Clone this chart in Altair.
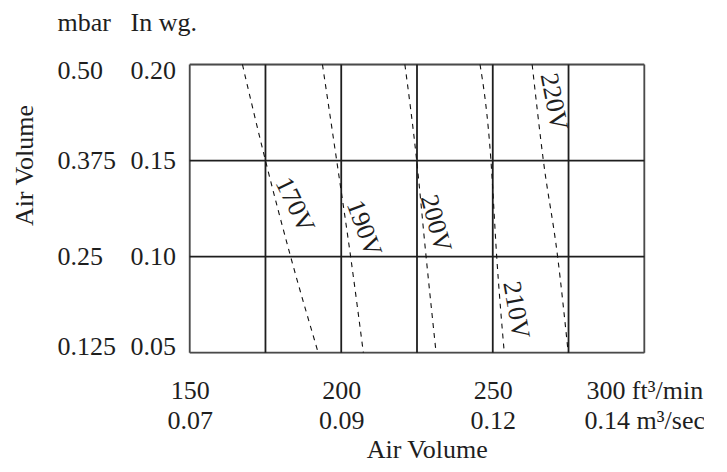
import altair as alt
import pandas as pd

FONT = "Liberation Serif"
INK = "#1e1e1e"

# ---- axis ticks and labels ----
cfm_ticks = [150, 200, 250, 300]
cfm_labels = ["150", "200", "250", "300 ft³/min"]
cms_labels = ["0.07", "0.09", "0.12", "0.14 m³/sec"]
inwg_ticks = [0.05, 0.10, 0.15, 0.20]
mbar_labels = ["0.125", "0.25", "0.375", "0.50"]

# ---- grid and frame ----
grid_x = [175, 200, 225, 250, 275]
grid_y = [0.10, 0.15]
frame_x = [150, 300]
frame_y = [0.05, 0.20]

# ---- voltage curves (air volume ft3/min at each pressure) ----
curve_pressure = [0.20, 0.15, 0.10, 0.05]
volts = ["170V", "190V", "200V", "210V", "220V"]
curve_170 = [167.4, 175.0, 183.3, 192.4]
curve_190 = [193.8, 198.5, 203.1, 207.3]
curve_200 = [221.0, 224.9, 228.0, 231.3]
curve_210 = [245.8, 249.4, 251.3, 253.8]
curve_220 = [263.0, 266.7, 271.4, 274.9]

# ---- curve labels ----
label_x = [184.7, 207.5, 231.2, 257.7, 270.2]
label_y = [0.1269, 0.1147, 0.1173, 0.0722, 0.1806]
label_angle = [64, 70, 75, 80, 79]

curves = [curve_170, curve_190, curve_200, curve_210, curve_220]
rows = []
for v, c in zip(volts, curves):
    for p, q in zip(curve_pressure, c):
        rows.append({"volt": v, "cfm": q, "inwg": p})
curve_df = pd.DataFrame(rows)
label_df = pd.DataFrame({"volt": volts, "cfm": label_x, "inwg": label_y, "angle": label_angle})
gx_df = pd.DataFrame({"cfm": grid_x})
gy_df = pd.DataFrame({"inwg": grid_y})
fx_df = pd.DataFrame({"cfm": frame_x})
fy_df = pd.DataFrame({"inwg": frame_y})
ticks_df = pd.DataFrame({"inwg": inwg_ticks})

def js_list(items):
    return "[" + ",".join("'" + s + "'" for s in items) + "]"

x_label_expr = ("[" + js_list(cfm_labels) + "[round((datum.value-150)/50)], "
                + js_list(cms_labels) + "[round((datum.value-150)/50)]]")
mbar_label_expr = js_list(mbar_labels) + "[round(datum.value*20)-1]"

FS = 26

x_axis = alt.Axis(
    values=cfm_ticks, labelExpr=x_label_expr, labelFlush=False, labelOverlap=False,
    labelBaseline="top", labelPadding=24.5, labelLineHeight=30,
    labelFont=FONT, labelFontSize=FS, labelColor=INK,
    ticks=False, tickSize=0, domain=False, grid=False,
    title="Air Volume", titleFont=FONT, titleFontSize=FS, titleFontWeight="normal",
    titleColor=INK, titleX=237, titleY=105, titleAlign="center", titleBaseline="alphabetic",
)
x_scale = alt.Scale(domain=[150, 300], nice=False, zero=False)

y_axis = alt.Axis(
    orient="left", values=inwg_ticks, format=".2f",
    labelAlign="left", labelPadding=59.7, labelFlush=True, labelFlushOffset=7,
    labelFont=FONT, labelFontSize=FS, labelColor=INK,
    ticks=False, tickSize=0, domain=False, grid=False,
    title="In wg.", titleFont=FONT, titleFontSize=FS, titleFontWeight="normal",
    titleColor=INK, titleAngle=0, titleAlign="left", titleBaseline="alphabetic",
    titleX=-59.7, titleY=-33.5,
)
y_scale = alt.Scale(domain=[0.05, 0.20], nice=False, zero=False)

X = alt.X("cfm:Q", scale=x_scale, axis=x_axis)
Y = alt.Y("inwg:Q", scale=y_scale, axis=y_axis)

fvert = alt.Chart(fx_df).mark_rule(color="#4a4a4a", strokeWidth=1.8).encode(x=X)
fhorz = alt.Chart(fy_df).mark_rule(color="#4a4a4a", strokeWidth=1.8).encode(y=Y)
vgrid = alt.Chart(gx_df).mark_rule(color=INK, strokeWidth=1.8).encode(x=X)
hgrid = alt.Chart(gy_df).mark_rule(color=INK, strokeWidth=1.8).encode(y=Y)
lines = alt.Chart(curve_df).mark_line(
    color="#111", strokeWidth=1.1, strokeDash=[5, 5], interpolate="monotone"
).encode(x=X, y=Y, detail="volt:N")
labels = alt.Chart(label_df).mark_text(
    font=FONT, fontSize=FS, color=INK, align="center", baseline="middle"
).encode(x=X, y=Y, text="volt:N", angle=alt.Angle("angle:Q", scale=None))

main = alt.layer(fvert, fhorz, vgrid, hgrid, lines, labels)

mbar_axis = alt.Axis(
    orient="left", values=inwg_ticks, labelExpr=mbar_label_expr,
    labelAlign="left", labelPadding=132.7, labelFlush=True, labelFlushOffset=7,
    labelFont=FONT, labelFontSize=FS, labelColor=INK,
    ticks=False, tickSize=0, domain=False, grid=False,
    title="mbar", titleFont=FONT, titleFontSize=FS, titleFontWeight="normal",
    titleColor=INK, titleAngle=0, titleAlign="left", titleBaseline="alphabetic",
    titleX=-132.7, titleY=-33.5,
)
mbar_layer = alt.Chart(ticks_df).mark_rule(opacity=0).encode(
    y=alt.Y("inwg:Q", scale=alt.Scale(domain=[0.05, 0.20], nice=False, zero=False), axis=mbar_axis)
)

chart = alt.layer(main, mbar_layer).resolve_scale(y="independent").properties(
    width=454.6,
    height=288.2,
    autosize=alt.AutoSizeParams(type="none"),
    padding={"left": 181.7, "top": 56.5, "right": 60, "bottom": 111},
    title=alt.TitleParams(
        "Air Volume", orient="left", anchor="middle", font=FONT, fontSize=FS,
        fontWeight="normal", color=INK, offset=19, dx=43,
    ),
).configure_view(stroke=None).configure(background="white")

chart.save("out.html", embed_options={"renderer": "svg", "actions": False})
